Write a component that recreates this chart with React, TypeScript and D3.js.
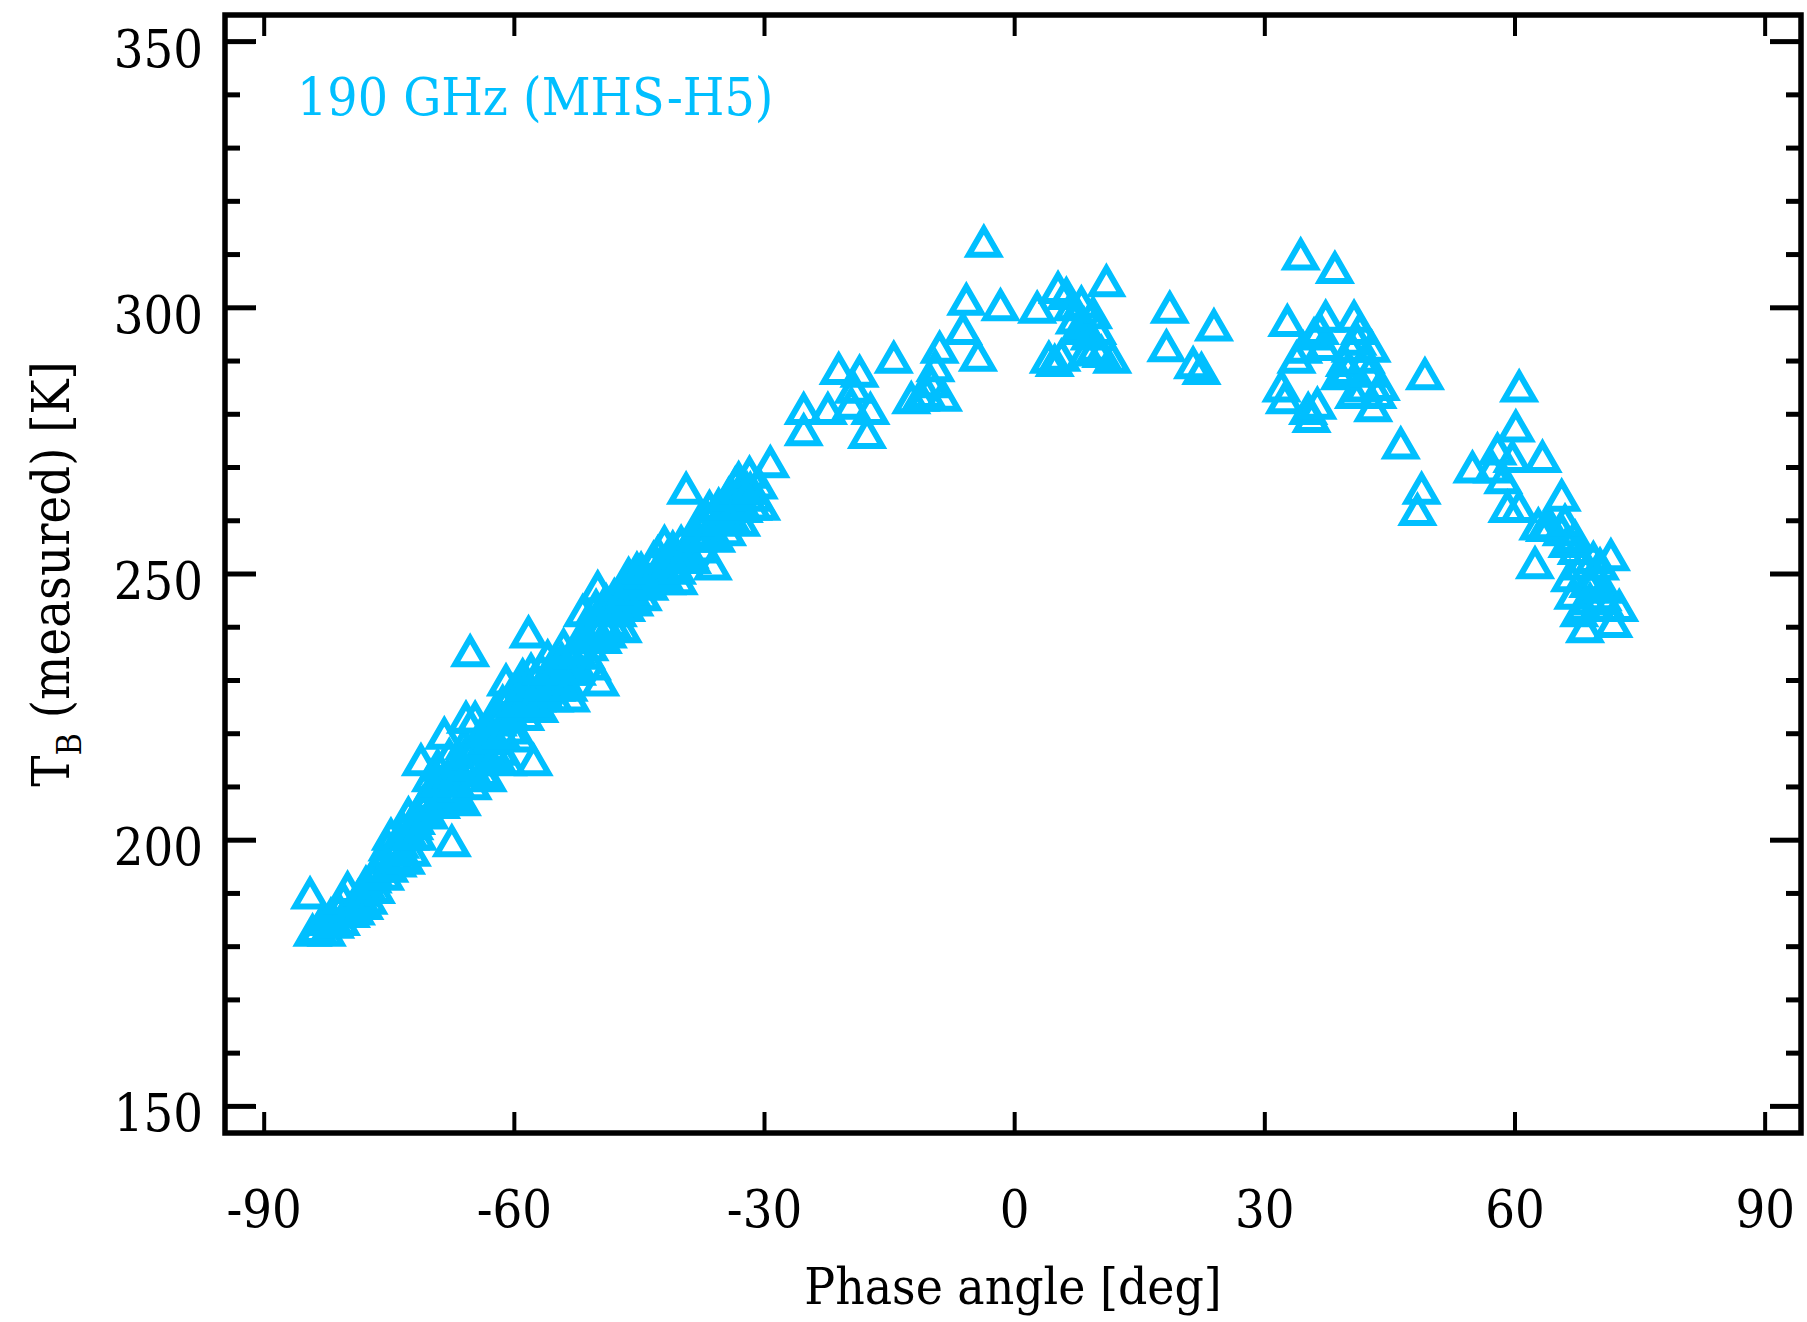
import React from "react";
import * as d3 from "d3";

// ---- data (phase angle [deg], TB [K]) ----
const bandX = [-84.5,-84.2,-83.5,-83,-82.5,-82,-81.5,-81,-80.8,-80.5,-80,-79.6,-79.2,-78.7,-78.2,-77.8,-77.5,-77,-76.6,-76.2,-75.8,-75.5,-75.2,-74.8,-74.5,-74,-73.7,-73.3,-73,-72.7,-72.3,-72,-71.6,-71.2,-70.8,-70.4,-70,-69.6,-69.2,-68.8,-68.4,-68,-67.5,-67.2,-66.8,-66.3,-66,-65.8,-65.6,-65.3,-65,-64.7,-64.3,-64,-63.6,-63.2,-62.8,-62.4,-62,-61.7,-61.4,-61,-60.8,-60.5,-60.2,-59.8,-59.4,-59,-58.7,-58.3,-58,-57.7,-57.3,-57,-56.6,-56.2,-56,-55.6,-55.2,-54.8,-54.5,-54.1,-53.7,-53.2,-52.8,-52.5,-52.1,-51.8,-51.4,-51,-50.7,-50.4,-50,-49.7,-49.4,-49,-48.6,-48.3,-48,-47.6,-47.3,-47,-46.6,-46.3,-46,-45.6,-45.3,-45,-44.6,-44.2,-43.8,-43.5,-43.1,-42.8,-42.4,-42,-41.7,-41.4,-41,-40.7,-40.3,-40,-39.4,-39,-38.7,-38.3,-38,-37.6,-37.3,-37,-36.6,-36.2,-35.8,-35.2,-34.8,-34.5,-34.1,-33.8,-33.5,-33.1,-32.8,-32.5,-32.1,-31.8,-31.4,-31.1,-30.7,-30.4,-29.3];
const bandY = [190,183,183.5,185,183,186,184.5,187,185,189,191,186.5,188,189.5,190.5,192,189,193,191,195,196.5,193.5,199,201,197,196,199.5,202,196.5,205,198,203,201,215,206,208.5,212,210,214,207,220,212,199.8,208,213,207.5,218,223,217,235.5,210.5,223,215,220,217,212,219,224,222.5,217,226,230,215,221,228,225,219.5,231,223.5,239,232,215,227,225,228,231,234.5,230,227,233,230,236.6,232,227,234,232,238,243,235,236.6,233,240,247.5,230,238,245,243,241,246,243,247,240,244,250,247,245,251,248.5,246,249.6,248,251.8,250,254,252,256,249,251.8,255,253,249,256,266,254,253,258,257,255,259.3,261,262.6,251.8,257,260.4,262,258.2,261,264.7,267,268,260,262.6,266,269,263,264.7,267,263,271];

const fillX = [-79,-78,-76.8,-75,-74.2,-73.5,-72.5,-71.8,-71,-70.2,-69.5,-69,-68.2,-67.8,-67,-66.5,-65.2,-64.5,-63.8,-63,-62.2,-61.5,-60.6,-60,-59.2,-58.5,-57.8,-57.5,-56.8,-55.8,-55,-54.3,-53.5,-52.6,-51.6,-50.8,-50.2,-49.2,-48.8,-47.8,-46.8,-45.8,-44.8,-43.3,-42.2,-40.5,-39.7,-37.8,-36.8,-35.5,-34.3,-33,-31.7];
const fillY = [187,188,194,195,199,197,201,204,207,205,207,211,209,216,211,215,214,218,213,221,216,220,224,226,227,229,226,230,232,232,229,234,229,236,239,241,244,241,239,244,246,249,251,253,250,251,253,260,258,263,265,263,266];

const peakX = [-25.3,-25.3,-22.4,-21.1,-19.6,-19.3,-18.6,-17.7,-17.3,-14.5,-12.4,-11.3,-10.5,-10,-9.5,-9,-8.6,-5.8,-6.2,-4.4,-3.7,-1.7,2.7,4.1,4.8,5.2,5.6,6.2,6.9,7.2,7.6,8.0,8.3,8.6,9,9.4,9.7,9.9,10.4,11,11.7,18.6,18.2,21.4,22.4,23.9];
const peakY = [281,277,281,288.5,282,285,288,276.5,281,290.6,283,283.5,284,286,289,292.5,283.5,301.5,296,291,312.4,300.5,300,290.6,290,303.7,291,302.6,300.5,298,296,301,297,292,295,299,292.7,296,291.7,305,290.6,300,292.8,289.6,288.5,296.7];

const midX = [32,32.4,32.7,33.8,34.3,34.6,35.2,35.6,35.9,36.3,36.6,37,37.3,38.4,39,39.6,40,40.3,40.7,40.7,41.1,41.4,41.8,42.1,42.5,42.8,43,43.5,43.9,46.3,49.2,48.8,48.3];
const midY = [285.2,283,297.5,290.6,310,292.5,281,279.5,295,282,296,293,298.3,307.5,287.5,290,288.5,292.7,298.3,284,294,296,285.2,290.6,288,292.7,281.5,284,285.5,274.5,287.5,266,262];

const tailX = [54.9,57.3,57.9,58.6,59.1,59.7,60.1,60.5,60.5,63.3,62.4,62.8,63.6,64.2,65.6,65.6,66.3,66.6,67,67.4,67.7,68,68.4,68.8,69,69.8,70.2,70.7,71.1,71.5,71.8,72.5,66,67.2,69.4,70.5,68.2];
const tailY = [270,270,273.4,268,262.6,272,277.7,285.2,262.6,272,252,259.3,259,259.3,264.7,258.2,256,249.6,246.3,254.7,243,251.8,240,248.5,245.2,249.6,251.8,247.4,244,253.5,241,244,260,257,253,246,244];

const xTicks = [-90, -60, -30, 0, 30, 60, 90];
const yMajorTicks = [150, 200, 250, 300, 350];
const yMinorTicks = [160, 170, 180, 190, 210, 220, 230, 240, 260, 270, 280, 290, 310, 320, 330, 340];
const seriesLabel = "190 GHz (MHS-H5)";
const xTitle = "Phase angle [deg]";

const W = 1807, H = 1322;
const L = 225, R = 1801, T = 15, B = 1133;
const COLOR = "#00BFFF";
const FONT = "'DejaVu Serif Condensed', 'DejaVu Serif', serif";

export default function App() {
  const x = d3.scaleLinear().domain([-94.7, 94.3]).range([L, R]);
  const y = d3.scaleLinear().domain([145, 355]).range([B, T]);
  const pts: [number, number][] = [];
  [[bandX, bandY], [fillX, fillY], [peakX, peakY], [midX, midY], [tailX, tailY]].forEach(([xs, ys]) =>
    xs.forEach((v, i) => pts.push([v, ys[i]]))
  );
  const hw = 15, hh = 13;
  const tri = `M0,${-hh}L${hw},${hh}L${-hw},${hh}Z`;
  const txt = { fontFamily: FONT, fontStretch: "condensed" as const };
  return (
    <svg width={W} height={H} style={{ position: "absolute", left: 0, top: 0, background: "#fff" }}>
      <rect x={0} y={0} width={W} height={H} fill="#fff" />
      {pts.map((p, i) => (
        <path key={i} d={tri} transform={`translate(${x(p[0])},${y(p[1])})`} fill="none" stroke={COLOR} strokeWidth={6} />
      ))}
      {/* frame */}
      <rect x={L} y={T} width={R - L} height={B - T} fill="none" stroke="#000" strokeWidth={5.5} />
      {xTicks.map((t) => (
        <g key={"xt" + t}>
          <line x1={x(t)} x2={x(t)} y1={B} y2={B - 21} stroke="#000" strokeWidth={4} />
          <line x1={x(t)} x2={x(t)} y1={T} y2={T + 21} stroke="#000" strokeWidth={4} />
          <text x={x(t)} y={1227} textAnchor="middle" fontSize={52} style={txt}>{t}</text>
        </g>
      ))}
      {yMajorTicks.map((t) => (
        <g key={"yt" + t}>
          <line x1={L} x2={L + 31} y1={y(t)} y2={y(t)} stroke="#000" strokeWidth={5} />
          <line x1={R} x2={R - 31} y1={y(t)} y2={y(t)} stroke="#000" strokeWidth={5} />
          <text x={203} y={y(t) + 25} textAnchor="end" fontSize={52} style={txt}>{t}</text>
        </g>
      ))}
      {yMinorTicks.map((t) => (
        <g key={"ym" + t}>
          <line x1={L} x2={L + 15} y1={y(t)} y2={y(t)} stroke="#000" strokeWidth={5} />
          <line x1={R} x2={R - 15} y1={y(t)} y2={y(t)} stroke="#000" strokeWidth={5} />
        </g>
      ))}
      <text x={297} y={115} fontSize={53} fill={COLOR} style={txt}>{seriesLabel}</text>
      <text x={(L + R) / 2} y={1304} textAnchor="middle" fontSize={51} style={txt}>{xTitle}</text>
      <text transform={`translate(69,${(T + B) / 2}) rotate(-90)`} textAnchor="middle" fontSize={52} style={txt}>
        T<tspan fontSize={34} dy={12}>B</tspan><tspan dy={-12}> (measured) [K]</tspan>
      </text>
    </svg>
  );
}
